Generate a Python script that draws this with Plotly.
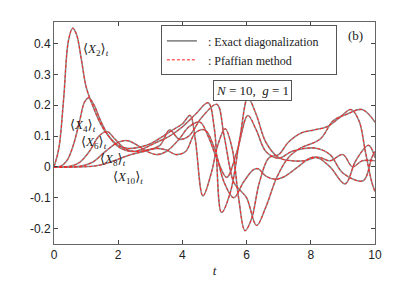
import plotly.graph_objects as go

# ---- data ----
t_x2 = [0, 0.15, 0.3, 0.45, 0.58, 0.7, 0.85, 1.0, 1.2, 1.45, 1.7, 2.0, 2.3, 2.7, 3.0, 3.4, 3.7, 4.0, 4.24, 4.4, 4.64, 4.9, 5.1, 5.33, 5.55, 5.75, 5.95, 6.15, 6.4, 6.7, 7.0, 7.3, 7.7, 8.1, 8.5, 8.9, 9.25, 9.5, 9.7, 9.9, 10]
x2 = [0, 0.06, 0.22, 0.41, 0.45, 0.43, 0.35, 0.26, 0.2, 0.14, 0.1, 0.07, 0.06, 0.065, 0.075, 0.1, 0.12, 0.14, 0.167, 0.09, -0.094, -0.02, 0.07, 0.124, 0.06, -0.1, -0.207, -0.17, -0.05, 0.03, 0.04, 0.08, 0.11, 0.12, 0.13, 0.16, 0.186, 0.15, 0.05, -0.05, -0.08]

t_x4 = [0, 0.2, 0.4, 0.6, 0.8, 0.95, 1.08, 1.25, 1.45, 1.7, 1.95, 2.2, 2.5, 2.8, 3.2, 3.6, 4.0, 4.4, 4.8, 5.0, 5.22, 5.5, 5.8, 6.04, 6.3, 6.6, 7.0, 7.4, 7.8, 8.2, 8.6, 9.07, 9.4, 9.8, 10]
x4 = [0, 0.002, 0.02, 0.07, 0.15, 0.21, 0.224, 0.2, 0.15, 0.1, 0.07, 0.055, 0.05, 0.06, 0.08, 0.1, 0.13, 0.17, 0.208, 0.12, -0.148, -0.08, 0.1, 0.224, 0.17, 0.08, 0.03, 0.02, 0.02, 0.03, 0.0, -0.055, 0.02, 0.07, 0.03]

t_x6 = [0, 0.5, 0.8, 1.1, 1.4, 1.65, 1.9, 2.2, 2.5, 2.9, 3.3, 3.6, 3.9, 4.2, 4.6, 5.07, 5.3, 5.6, 5.8, 6.0, 6.31, 6.6, 6.94, 7.3, 7.66, 8.29, 8.7, 9.1, 9.6, 10]
x6 = [0, 0.002, 0.015, 0.05, 0.1, 0.115, 0.09, 0.06, 0.05, 0.055, 0.07, 0.12, 0.09, 0.1, 0.16, 0.203, 0.1, -0.05, -0.076, -0.1, -0.19, -0.13, -0.034, 0.03, 0.06, 0.09, 0.15, 0.17, 0.186, 0.145]

t_x8 = [0, 0.8, 1.2, 1.6, 2.0, 2.3, 2.6, 2.9, 3.2, 3.5, 3.9, 4.2, 4.55, 4.8, 5.1, 5.38, 5.7, 6.04, 6.3, 6.6, 7.0, 7.4, 7.8, 8.2, 8.6, 9.0, 9.63, 9.9, 10]
x8 = [0, 0.002, 0.015, 0.05, 0.08, 0.085, 0.07, 0.05, 0.04, 0.05, 0.09, 0.13, 0.145, 0.1, 0.02, -0.034, 0.05, 0.167, 0.12, 0.05, 0.028, 0.05, 0.06, 0.06, 0.04, -0.02, -0.045, 0.03, 0.05]

t_x10 = [0, 1.2, 1.6, 2.0, 2.4, 2.8, 3.2, 3.5, 3.8, 4.1, 4.4, 4.7, 5.0, 5.3, 5.6, 5.9, 6.2, 6.36, 6.6, 6.9, 7.2, 7.6, 8.0, 8.3, 8.6, 9.0, 9.3, 9.6, 10]
x10 = [0, 0.002, 0.01, 0.025, 0.04, 0.05, 0.06, 0.055, 0.04, 0.05, 0.11, 0.12, 0.06, -0.05, -0.1, -0.05, -0.01, -0.006, -0.03, -0.04, -0.03, 0.0, 0.03, 0.03, 0.02, 0.04, 0.0, 0.02, 0.02]

series = [(t_x2, x2), (t_x4, x4), (t_x6, x6), (t_x8, x8), (t_x10, x10)]
names = ["2", "4", "6", "8", "10"]
label_t = [1.3, 0.9, 1.25, 1.85, 2.3]
label_y = [0.38, 0.135, 0.078, 0.025, -0.035]

x_ticks = [0, 2, 4, 6, 8, 10]
y_ticks = [-0.2, -0.1, 0, 0.1, 0.2, 0.3, 0.4]
y_tick_text = ["-0.2", "-0.1", "0", "0.1", "0.2", "0.3", "0.4"]

SERIF = "Liberation Serif, DejaVu Serif, serif"
SANS = "Liberation Sans, Arial, sans-serif"
NB = "\u00a0"

fig = go.Figure()
for i, (tt, yy) in enumerate(series):
    fig.add_trace(go.Scatter(x=tt, y=yy, mode="lines",
                             line=dict(color="#8c8c8c", width=1.6, shape="spline", smoothing=1.0),
                             name=NB * 2 + ": Exact diagonalization" + NB * 4, showlegend=(i == 0),
                             legendgroup="ed"))
for i, (tt, yy) in enumerate(series):
    fig.add_trace(go.Scatter(x=tt, y=yy, mode="lines",
                             line=dict(color="#ff2020", width=1.0, dash="3px,2px", shape="spline", smoothing=1.0),
                             name=NB * 2 + ": Pfaffian method", showlegend=(i == 0),
                             legendgroup="pf"))

for n, lt, ly in zip(names, label_t, label_y):
    fig.add_annotation(x=lt, y=ly, xref="x", yref="y", showarrow=False,
                       text="⟨<i>X</i><sub>%s</sub>⟩<sub><i>t</i></sub>" % n,
                       font=dict(family=SERIF, size=13, color="#222"))

fig.add_annotation(x=0.97, y=0.98, xref="paper", yref="paper", showarrow=False,
                   xanchor="right", yanchor="top", text="(b)",
                   font=dict(family=SERIF, size=13, color="#222"))
fig.add_annotation(x=0.617, y=0.739, xref="paper", yref="paper", showarrow=False,
                   text="<i>N</i> = 10,  <i>g</i> = 1",
                   font=dict(family=SERIF, size=13, color="#222"),
                   bordercolor="#555", borderwidth=1, borderpad=2, bgcolor="white")

fig.update_layout(
    width=415, height=288,
    margin=dict(l=54, r=40, t=22, b=38),
    paper_bgcolor="white", plot_bgcolor="white",
    legend=dict(x=0.333, y=0.985, xanchor="left", yanchor="top",
                bordercolor="#555", borderwidth=1, bgcolor="white",
                font=dict(family=SERIF, size=12, color="#222"),
                tracegroupgap=0, itemwidth=30),
    xaxis=dict(range=[0, 10], tickvals=x_ticks, ticks="inside", ticklen=4,
               showline=True, linecolor="#666", mirror="ticks", showgrid=False, zeroline=False,
               tickfont=dict(family=SANS, size=12, color="#222"),
               title=dict(text="<i>t</i>", font=dict(family=SERIF, size=13, color="#222"), standoff=4)),
    yaxis=dict(range=[-0.25, 0.47], tickvals=y_ticks, ticktext=y_tick_text, ticks="inside", ticklen=4,
               showline=True, linecolor="#666", mirror="ticks", showgrid=False, zeroline=False,
               tickfont=dict(family=SANS, size=12, color="#222")),
)

fig.write_html("out.html", config={"displayModeBar": False},
               post_script="document.body.style.margin='0';")
